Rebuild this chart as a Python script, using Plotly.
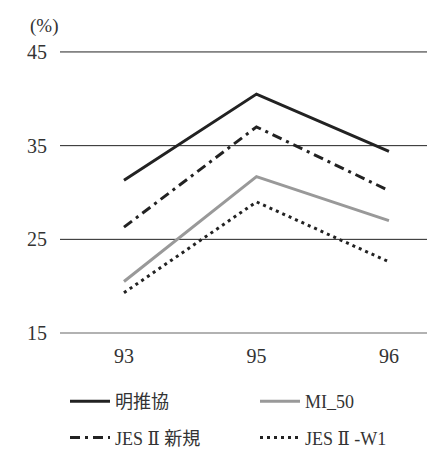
import plotly.graph_objects as go

years = ["93", "95", "96"]
meisuikyo = [31.3, 40.5, 34.4]
mi50 = [20.5, 31.7, 27.0]
jes_new = [26.3, 37.0, 30.2]
jes_w1 = [19.3, 29.0, 22.6]
y_ticks = [15, 25, 35, 45]

FONT = "Liberation Serif, DejaVu Serif, Noto Sans CJK JP"
TXT = "#333333"

fig = go.Figure()
fig.add_trace(go.Scatter(x=years, y=meisuikyo, name="明推協", mode="lines", legend="legend",
                         legendgroup="a", line=dict(color="#222222", width=3)))
fig.add_trace(go.Scatter(x=years, y=mi50, name="MI_50", mode="lines", legend="legend2",
                         legendgroup="b", line=dict(color="#999999", width=3)))
fig.add_trace(go.Scatter(x=years, y=jes_new, name="JES Ⅱ 新規", mode="lines", legend="legend",
                         legendgroup="c",
                         line=dict(color="#222222", width=3, dash="10px,5px,3px,5px")))
fig.add_trace(go.Scatter(x=years, y=jes_w1, name="JES Ⅱ -W1", mode="lines", legend="legend2",
                         legendgroup="d", line=dict(color="#222222", width=3, dash="3px,4px")))

W = 383.0
H = 283.0
def px(x):
    return (x - 52) / W
def py(y):
    return (326 - y) / H

leg_common = dict(orientation="v", yanchor="top", xanchor="left", tracegroupgap=10,
                  font=dict(family=FONT, size=18, color=TXT), bgcolor="rgba(0,0,0,0)",
                  itemwidth=40)

fig.update_layout(
    width=435, height=450,
    margin=dict(l=52, r=0, t=43, b=124, autoexpand=False),
    paper_bgcolor="white", plot_bgcolor="white",
    font=dict(family=FONT, size=18, color=TXT),
    showlegend=True,
    legend=dict(x=px(57), y=py(375), **leg_common),
    legend2=dict(x=px(247), y=py(375), **leg_common),
    xaxis=dict(type="category", range=[-0.483, 2.408], showgrid=False,
               showline=False, zeroline=False, ticks="", ticklabelstandoff=8,
               tickfont=dict(family=FONT, size=20, color=TXT)),
    yaxis=dict(range=[14.9, 45.1], tickvals=y_ticks, showgrid=False, zeroline=False,
               showline=False, ticks="outside", ticklen=8, tickcolor="rgba(0,0,0,0)",
               tickfont=dict(family=FONT, size=20, color=TXT)),
    annotations=[dict(text="(%)", x=px(36), y=py(18), xref="paper", yref="paper",
                      xanchor="center", yanchor="middle", showarrow=False,
                      font=dict(family=FONT, size=19, color=TXT))],
)
for v in y_ticks:
    fig.add_shape(type="line", xref="paper", yref="y", x0=0, x1=1, y0=v, y1=v,
                  layer="below",
                  line=dict(color="#999999" if v == y_ticks[0] else "#222222",
                            width=1.5 if v == y_ticks[0] else 1))
fig.write_html("out.html")
